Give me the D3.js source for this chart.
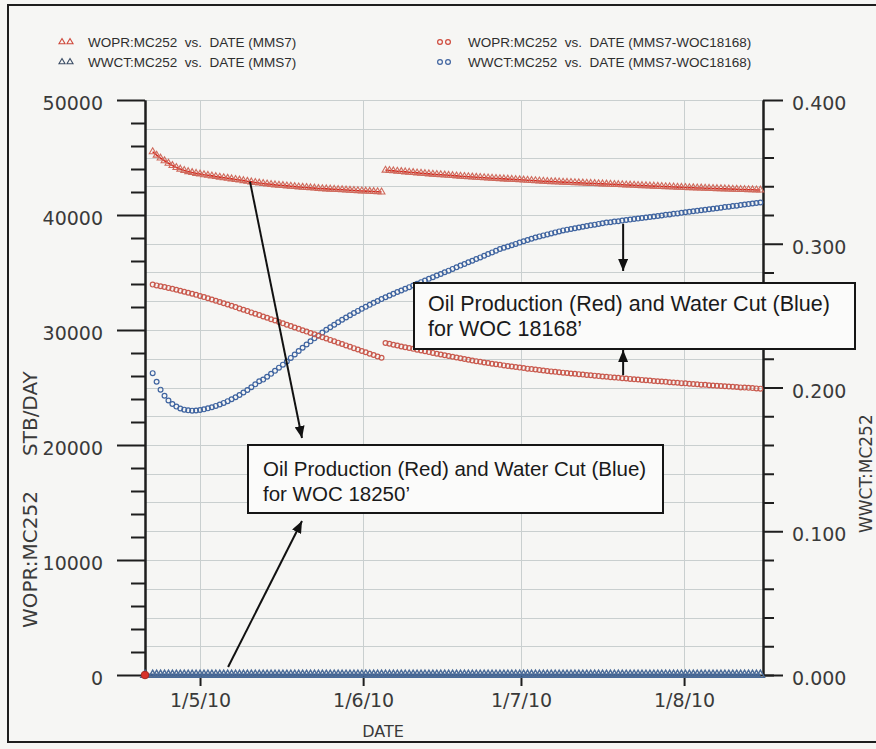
<!DOCTYPE html>
<html>
<head>
<meta charset="utf-8">
<script src="https://cdn.jsdelivr.net/npm/d3@7"></script>
<style>
  html, body { margin: 0; padding: 0; background: #f6f6f4; }
  svg { display: block; }
</style>
</head>
<body>
<svg id="chart" width="876" height="749"></svg>
<script>
// ---- Report times: simulation start, then a report every 18 hours ----
const simStart = new Date(2010, 3, 20, 13);
const reportStart = new Date(2010, 3, 22, 0);
const reportStepHours = 18;
const reportCount = 155;
const segmentBreak = 59; // restart of the WOPR runs

// ---- WOPR:MC252 (STB/DAY), run MMS7 (WOC 18250') ----
const woprMms7A = [45500,45200,44950,44720,44500,44300,44130,43990,43870,43770,
  43690,43620,43560,43500,43450,43400,43340,43290,43240,43190,
  43140,43090,43040,42990,42930,42880,42830,42780,42740,42700,
  42660,42620,42590,42560,42530,42500,42470,42440,42410,42390,
  42360,42340,42310,42290,42270,42250,42230,42210,42190,42170,
  42150,42130,42110,42090,42080,42060,42040,42020,42000];
const woprMms7B = [43900,43870,43840,43810,43780,43750,43720,43690,43660,43630,
  43600,43575,43550,43525,43500,43475,43450,43425,43400,43375,
  43350,43325,43300,43280,43260,43240,43220,43200,43180,43160,
  43140,43120,43100,43080,43060,43040,43020,43000,42980,42960,
  42940,42920,42900,42885,42870,42855,42840,42825,42810,42795,
  42780,42765,42750,42735,42720,42705,42690,42675,42660,42645,
  42630,42615,42600,42585,42570,42555,42540,42525,42510,42495,
  42480,42465,42450,42435,42420,42405,42390,42378,42366,42354,
  42342,42330,42318,42306,42294,42282,42270,42258,42246,42234,
  42222,42210,42200,42190,42180,42170];
const woprMms7Initial = [0];

// ---- WOPR:MC252 (STB/DAY), run MMS7-WOC18168 ----
const woprWocA = [33950,33880,33810,33740,33660,33580,33500,33415,33330,33240,
  33150,33055,32960,32860,32760,32655,32550,32440,32330,32220,
  32105,31990,31875,31760,31645,31530,31415,31300,31180,31060,
  30940,30820,30700,30580,30460,30340,30220,30100,29980,29860,
  29740,29620,29500,29380,29260,29140,29020,28900,28780,28660,
  28540,28420,28300,28180,28060,27940,27820,27700,27580];
const woprWocB = [28870,28800,28720,28650,28570,28500,28430,28360,28290,28220,
  28150,28080,28010,27940,27870,27810,27740,27670,27610,27540,
  27480,27410,27350,27290,27240,27180,27130,27070,27020,26970,
  26920,26870,26820,26780,26730,26690,26640,26600,26560,26520,
  26480,26440,26400,26360,26330,26290,26260,26220,26190,26160,
  26120,26090,26060,26030,25990,25960,25930,25900,25870,25840,
  25810,25780,25750,25720,25690,25660,25630,25600,25570,25550,
  25520,25490,25460,25440,25410,25380,25360,25330,25300,25280,
  25250,25230,25200,25180,25150,25130,25110,25080,25060,25040,
  25010,24990,24970,24950,24920,24900];

// ---- WWCT:MC252 (fraction), run MMS7-WOC18168 ----
const wwctWoc = [0.2100,0.2040,0.1985,0.1943,0.1910,0.1885,0.1867,0.1854,0.1846,0.1841,
  0.1839,0.1840,0.1843,0.1848,0.1855,0.1863,0.1872,0.1882,0.1893,0.1905,
  0.1918,0.1932,0.1948,0.1965,0.1983,0.2002,0.2022,0.2043,0.2055,0.2075,
  0.2095,0.2116,0.2138,0.2159,0.2181,0.2206,0.2230,0.2254,0.2277,0.2299,
  0.2321,0.2342,0.2362,0.2382,0.2401,0.2419,0.2437,0.2454,0.2471,0.2487,
  0.2503,0.2518,0.2533,0.2547,0.2561,0.2575,0.2589,0.2602,0.2615,0.2628,
  0.2640,0.2652,0.2664,0.2675,0.2687,0.2698,0.2710,0.2721,0.2733,0.2744,
  0.2756,0.2767,0.2779,0.2790,0.2802,0.2813,0.2825,0.2836,0.2848,0.2859,
  0.2871,0.2882,0.2894,0.2905,0.2917,0.2928,0.2940,0.2951,0.2963,0.2972,
  0.2981,0.2990,0.2999,0.3008,0.3017,0.3026,0.3035,0.3044,0.3051,0.3058,
  0.3065,0.3072,0.3079,0.3086,0.3093,0.3098,0.3103,0.3108,0.3113,0.3118,
  0.3123,0.3128,0.3133,0.3138,0.3143,0.3147,0.3150,0.3154,0.3157,0.3161,
  0.3165,0.3168,0.3172,0.3175,0.3179,0.3183,0.3186,0.3190,0.3193,0.3197,
  0.3201,0.3204,0.3208,0.3211,0.3215,0.3219,0.3222,0.3226,0.3229,0.3233,
  0.3237,0.3240,0.3244,0.3247,0.3251,0.3255,0.3258,0.3262,0.3265,0.3269,
  0.3273,0.3276,0.3280,0.3283,0.3287];

// ---- WWCT:MC252 (fraction), run MMS7: no water, from simulation start ----
const wwctMms7 = [0,0,0,0,0,0,0,0,0,0,0,0,
  0,0,0,0,0,0,0,0,0,0,0,0,
  0,0,0,0,0,0,0,0,0,0,0,0,
  0,0,0,0,0,0,0,0,0,0,0,0,
  0,0,0,0,0,0,0,0,0,0,0,0,
  0,0,0,0,0,0,0,0,0,0,0,0,
  0,0,0,0,0,0,0,0,0,0,0,0,
  0,0,0,0,0,0,0,0,0,0,0,0,
  0,0,0,0,0,0,0,0,0,0,0,0,
  0,0,0,0,0,0,0,0,0,0,0,0,
  0,0,0,0,0,0,0,0,0,0,0,0,
  0,0,0,0,0,0,0,0,0,0,0,0,
  0,0,0,0,0,0,0,0,0,0,0,0];

// ---- Axis ticks ----
const dateTicks = [new Date(2010, 4, 1), new Date(2010, 5, 1), new Date(2010, 6, 1), new Date(2010, 7, 1)];
const leftMajorTicks = [0, 10000, 20000, 30000, 40000, 50000];
const leftMinorStep = 2000;
const rightMajorTicks = [0, 0.1, 0.2, 0.3, 0.4];
const rightMinorStep = 0.02;

// ---- Legend and annotation texts ----
const legendItems = [
  { label: "WOPR:MC252  vs.  DATE (MMS7)", shape: "triangle", color: "#cf4a3c", col: 0, row: 0 },
  { label: "WWCT:MC252  vs.  DATE (MMS7)", shape: "triangle", color: "#3c4e66", col: 0, row: 1 },
  { label: "WOPR:MC252  vs.  DATE (MMS7-WOC18168)", shape: "circle", color: "#cf4a3c", col: 1, row: 0 },
  { label: "WWCT:MC252  vs.  DATE (MMS7-WOC18168)", shape: "circle", color: "#3f64a0", col: 1, row: 1 }
];
const noteLines18168 = ["Oil Production (Red) and Water Cut (Blue)", "for WOC 18168\u2019"];
const noteLines18250 = ["Oil Production (Red) and Water Cut (Blue)", "for WOC 18250\u2019"];

// ---------------------------------------------------------------
const reportDates = d3.range(reportCount).map(i => d3.timeHour.offset(reportStart, i * reportStepHours));
const zeroDates = [simStart].concat(reportDates);

const svg = d3.select("#chart");
const plot = { left: 145, right: 763, top: 100, bottom: 675 };

const x = d3.scaleTime().domain([simStart, new Date(2010, 7, 16)]).range([plot.left, plot.right]);
const yL = d3.scaleLinear().domain([0, 50000]).range([plot.bottom, plot.top]);
const yR = d3.scaleLinear().domain([0, 0.4]).range([plot.bottom, plot.top]);

const tickFont = "'DejaVu Sans', Verdana, sans-serif";
const textFont = "'Liberation Sans', Arial, Helvetica, sans-serif";

// outer frame
svg.append("rect").attr("x", 8).attr("y", 5).attr("width", 880).attr("height", 737)
  .attr("fill", "none").attr("stroke", "#1e1e1e").attr("stroke-width", 2);

// ---- grid ----
const grid = svg.append("g").attr("stroke", "#c9cfcf").attr("stroke-width", 1);
const rightAll = d3.range(1, 21).map(i => +(i * rightMinorStep).toFixed(2));
grid.selectAll("line.h").data(rightAll).join("line")
  .attr("x1", plot.left).attr("x2", plot.right)
  .attr("y1", d => Math.round(yR(d)) + 0.5).attr("y2", d => Math.round(yR(d)) + 0.5);
grid.selectAll("line.v").data(dateTicks).join("line")
  .attr("y1", plot.top).attr("y2", plot.bottom)
  .attr("x1", d => Math.round(x(d)) + 0.5).attr("x2", d => Math.round(x(d)) + 0.5);

// ---- axes ----
function styleAxis(g, size) {
  g.selectAll("path.domain").attr("stroke", "#1e1e1e").attr("stroke-width", 2);
  g.selectAll(".tick line").attr("stroke", "#1e1e1e").attr("stroke-width", 2);
  g.selectAll(".tick text").attr("font-family", tickFont).attr("font-size", size).attr("fill", "#3a3a3a");
}

const leftMinor = d3.range(0, 50001, leftMinorStep).filter(v => !leftMajorTicks.includes(v));
svg.append("g").attr("transform", `translate(${plot.left},0)`)
  .call(d3.axisLeft(yL).tickValues(leftMinor).tickSize(14).tickSizeOuter(0).tickFormat(""))
  .call(g => styleAxis(g, 19));
svg.append("g").attr("transform", `translate(${plot.left},0)`)
  .call(d3.axisLeft(yL).tickValues(leftMajorTicks).tickSize(28).tickSizeOuter(0).tickPadding(14).tickFormat(d3.format("d")))
  .call(g => styleAxis(g, 19))
  .call(g => g.selectAll(".tick text").attr("dy", "0.5em"));

const rightMinor = rightAll.filter(v => !rightMajorTicks.some(m => Math.abs(m - v) < 1e-9));
svg.append("g").attr("transform", `translate(${plot.right},0)`)
  .call(d3.axisRight(yR).tickValues([0].concat(rightMinor)).tickSize(11).tickSizeOuter(0).tickFormat(""))
  .call(g => styleAxis(g, 19));
svg.append("g").attr("transform", `translate(${plot.right},0)`)
  .call(d3.axisRight(yR).tickValues(rightMajorTicks).tickSize(20).tickSizeOuter(0).tickPadding(9).tickFormat(d3.format(".3f")))
  .call(g => styleAxis(g, 19))
  .call(g => g.selectAll(".tick text").attr("dy", "0.5em"));

svg.append("g").attr("transform", `translate(0,${plot.bottom})`)
  .call(d3.axisBottom(x).tickValues(dateTicks).tickSize(11).tickSizeOuter(0).tickPadding(8).tickFormat(d3.timeFormat("%-d/%-m/%y")))
  .call(g => styleAxis(g, 19));

// axis titles
svg.append("text").attr("transform", "translate(37,628) rotate(-90)")
  .attr("font-family", tickFont).attr("font-size", 20).attr("fill", "#3a3a3a")
  .text("WOPR:MC252");
svg.append("text").attr("transform", "translate(37,456) rotate(-90)")
  .attr("font-family", tickFont).attr("font-size", 20).attr("fill", "#3a3a3a")
  .text("STB/DAY");
svg.append("text").attr("transform", "translate(872,533) rotate(-90)")
  .attr("font-family", tickFont).attr("font-size", 17).attr("fill", "#3a3a3a")
  .text("WWCT:MC252");
svg.append("text").attr("x", 383).attr("y", 737).attr("text-anchor", "middle")
  .attr("font-family", tickFont).attr("font-size", 16).attr("fill", "#3a3a3a")
  .text("DATE");

// ---- series ----
const pts = (dates, vals, offset) => vals.map((v, i) => ({ date: dates[i + offset], value: v }));
const redTopA = pts(reportDates, woprMms7A, 0);
const redTopB = pts(reportDates, woprMms7B, segmentBreak);
const redLowA = pts(reportDates, woprWocA, 0);
const redLowB = pts(reportDates, woprWocB, segmentBreak);
const blueWoc = pts(reportDates, wwctWoc, 0);
const blueZero = pts(zeroDates, wwctMms7, 0);

const triangle = d3.symbol().type(d3.symbolTriangle).size(20);
const bigTriangle = d3.symbol().type(d3.symbolTriangle).size(30);

// water cut, WOC 18168'
svg.append("g").selectAll("circle").data(blueWoc).join("circle")
  .attr("cx", d => x(d.date)).attr("cy", d => yR(d.value)).attr("r", 2.4)
  .attr("fill", "none").attr("stroke", "#3f64a0").attr("stroke-width", 1.2);

// oil rate, WOC 18168'
svg.append("g").selectAll("circle").data(redLowA.concat(redLowB)).join("circle")
  .attr("cx", d => x(d.date)).attr("cy", d => yL(d.value)).attr("r", 2.4)
  .attr("fill", "none").attr("stroke", "#c95a4e").attr("stroke-width", 1.2);

// oil rate, WOC 18250': line under triangle markers
const lineL = d3.line().x(d => x(d.date)).y(d => yL(d.value));
[redTopA, redTopB].forEach(seg => {
  svg.append("path").datum(seg).attr("d", lineL)
    .attr("fill", "none").attr("stroke", "#d8261c").attr("stroke-width", 1.6);
});
svg.append("g").selectAll("path").data(redTopA.concat(redTopB)).join("path")
  .attr("transform", d => `translate(${x(d.date)},${yL(d.value)})`)
  .attr("d", triangle)
  .attr("fill", "none").attr("stroke", "#cf6a5c").attr("stroke-width", 1.1);

// water cut, WOC 18250': zero throughout
svg.append("line").attr("x1", x(simStart)).attr("x2", x(reportDates[reportCount - 1]))
  .attr("y1", yR(0)).attr("y2", yR(0)).attr("stroke", "#3d5e8e").attr("stroke-width", 3);
svg.append("g").selectAll("path").data(blueZero).join("path")
  .attr("transform", d => `translate(${x(d.date)},${yR(d.value)})`)
  .attr("d", bigTriangle)
  .attr("fill", "none").attr("stroke", "#4a6b98").attr("stroke-width", 1.4);

// oil rate at simulation start
svg.append("g").selectAll("circle").data(woprMms7Initial).join("circle")
  .attr("cx", x(simStart)).attr("cy", d => yL(d)).attr("r", 3.8)
  .attr("fill", "#d8322a").attr("stroke", "#a52a22").attr("stroke-width", 1);

// ---- annotations ----
const defs = svg.append("defs");
defs.append("marker").attr("id", "arrowhead").attr("viewBox", "0 0 12 10")
  .attr("refX", 12).attr("refY", 5).attr("markerWidth", 12).attr("markerHeight", 10)
  .attr("markerUnits", "userSpaceOnUse").attr("orient", "auto")
  .append("path").attr("d", "M0,0 L12,5 L0,10 Z").attr("fill", "#111");

const arrowDate18250 = new Date(2010, 4, 10, 12);
const arrowDateZero = new Date(2010, 4, 6, 8);
const arrowDate18168 = new Date(2010, 6, 20, 10);
const arrows = [
  { x1: x(arrowDate18250), y1: yL(42900), x2: 302, y2: 438 },
  { x1: x(arrowDateZero), y1: yR(0) - 8, x2: 302, y2: 521 },
  { x1: x(arrowDate18168), y1: yR(0.316) + 3, x2: x(arrowDate18168), y2: 271 },
  { x1: x(arrowDate18168), y1: yL(25810) - 3, x2: x(arrowDate18168), y2: 350 }
];
svg.append("g").selectAll("line").data(arrows).join("line")
  .attr("x1", d => d.x1).attr("y1", d => d.y1).attr("x2", d => d.x2).attr("y2", d => d.y2)
  .attr("stroke", "#111").attr("stroke-width", 2).attr("marker-end", "url(#arrowhead)");

function noteBox(bx, by, bw, bh, lines, size, tx, ty, lead) {
  svg.append("rect").attr("x", bx).attr("y", by).attr("width", bw).attr("height", bh)
    .attr("fill", "#fbfbfa").attr("stroke", "#151515").attr("stroke-width", 2);
  const t = svg.append("text").attr("font-family", textFont).attr("font-size", size).attr("fill", "#1a1a1a");
  lines.forEach((s, i) => t.append("tspan").attr("x", tx).attr("y", ty + i * lead).text(s));
}
noteBox(414, 283, 441, 66, noteLines18168, 21.5, 428, 311, 25);
noteBox(248, 445, 415, 68, noteLines18250, 20.5, 263, 476, 25);

// ---- legend ----
const legend = svg.append("g");
const colX = [62, 440], colText = [88, 468], rowY = [42, 62];
legendItems.forEach(item => {
  const cx = colX[item.col], cy = rowY[item.row];
  [0, 8].forEach(dx => {
    if (item.shape === "triangle") {
      legend.append("path").attr("transform", `translate(${cx + dx},${cy})`)
        .attr("d", d3.symbol().type(d3.symbolTriangle).size(16))
        .attr("fill", "none").attr("stroke", item.color).attr("stroke-width", 1.1);
    } else {
      legend.append("circle").attr("cx", cx + dx).attr("cy", cy).attr("r", 2.4)
        .attr("fill", "none").attr("stroke", item.color).attr("stroke-width", 1.2);
    }
  });
  legend.append("text").attr("x", colText[item.col]).attr("y", cy + 5)
    .attr("font-family", textFont).attr("font-size", 13.5).attr("fill", "#2e2e2e")
    .style("white-space", "pre").text(item.label);
});
</script>
</body>
</html>
